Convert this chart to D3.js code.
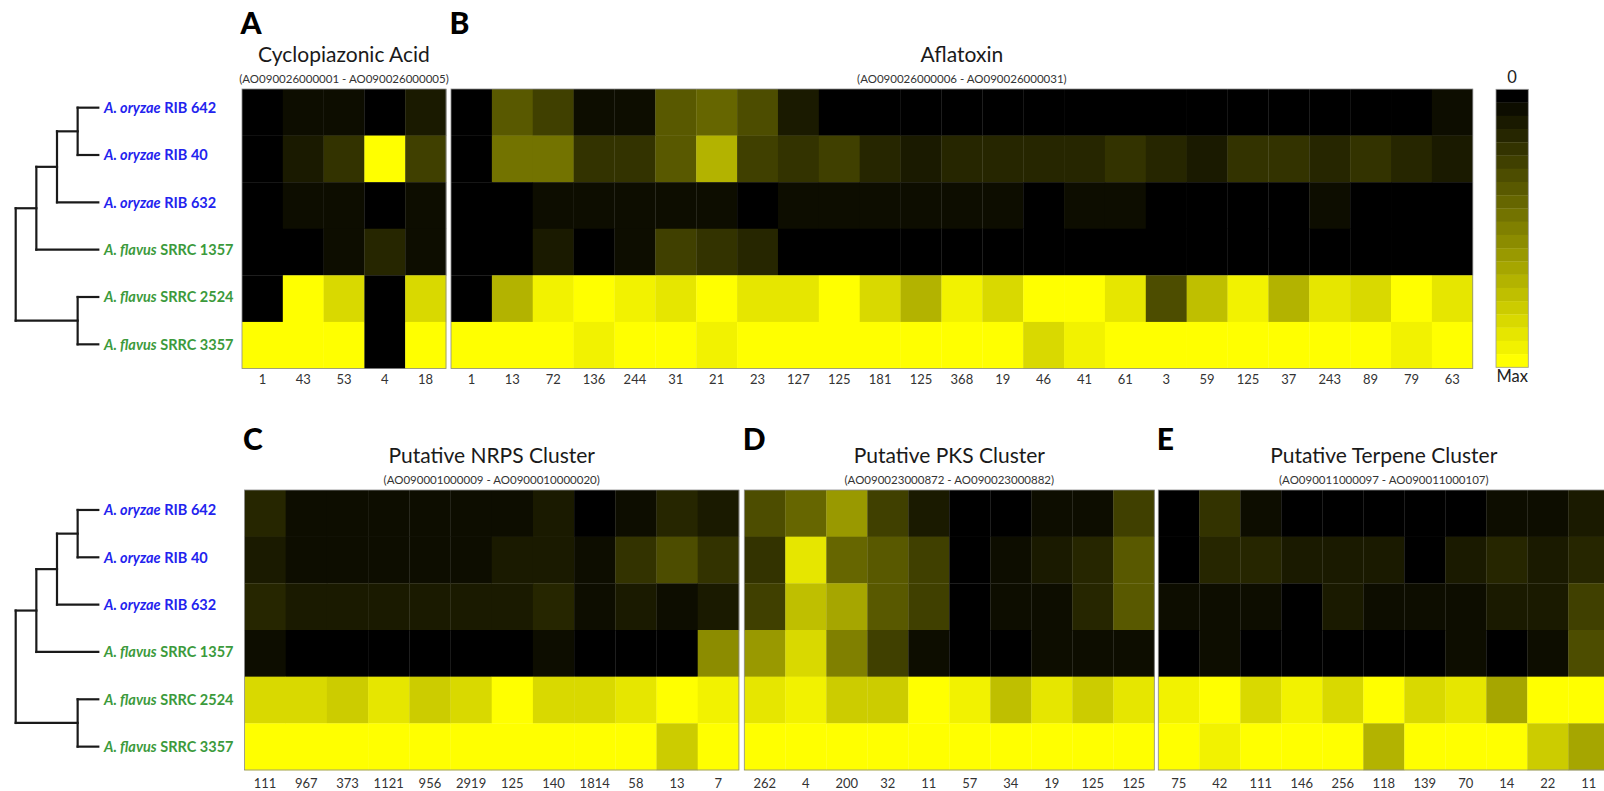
<!DOCTYPE html>
<html>
<head>
<meta charset="utf-8">
<script src="https://cdn.jsdelivr.net/npm/d3@7"></script>
<style>
  body { margin: 0; background: #fff; }
  svg { display: block; font-family: Lato, "Open Sans", sans-serif; }
</style>
</head>
<body>
<svg id="fig" width="1604" height="791"></svg>
<script>
// ---- strains (heatmap rows, dendrogram leaves) ----
const species   = ["A. oryzae", "A. oryzae", "A. oryzae", "A. flavus", "A. flavus", "A. flavus"];
const strainIds = ["RIB 642", "RIB 40", "RIB 632", "SRRC 1357", "SRRC 2524", "SRRC 3357"];
const strainGroup = ["oryzae", "oryzae", "oryzae", "flavus", "flavus", "flavus"];

// strain tree: h = node distance from the root (arbitrary units), leaf = row index
const strainTree = { h: 0, children: [
  { h: 1, children: [
    { h: 2, children: [
      { h: 3, children: [ { h: 4, leaf: 0 }, { h: 4, leaf: 1 } ] },
      { h: 4, leaf: 2 }
    ] },
    { h: 4, leaf: 3 }
  ] },
  { h: 3, children: [ { h: 4, leaf: 4 }, { h: 4, leaf: 5 } ] }
] };

// ---- gene clusters: maximum read count per gene (column labels) ----
const cpaMax  = [1, 43, 53, 4, 18];
const aflMax  = [1, 13, 72, 136, 244, 31, 21, 23, 127, 125, 181, 125, 368, 19, 46, 41, 61, 3, 59, 125, 37, 243, 89, 79, 63];
const nrpsMax = [111, 967, 373, 1121, 956, 2919, 125, 140, 1814, 58, 13, 7];
const pksMax  = [262, 4, 200, 32, 11, 57, 34, 19, 125, 125];
const terpMax = [75, 42, 111, 146, 256, 118, 139, 70, 14, 22, 11];

// ---- expression as % of each gene's maximum (rows follow strainIds) ----
const cpaExpr = [
  [0, 5, 5, 0, 10],
  [0, 10, 20, 100, 25],
  [0, 5, 5, 0, 5],
  [0, 0, 5, 15, 5],
  [0, 100, 85, 0, 85],
  [100, 100, 100, 0, 100]
];
const aflExpr = [
  [0, 35, 25, 5, 5, 35, 40, 30, 10, 0, 0, 0, 0, 0, 0, 0, 0, 0, 0, 0, 0, 0, 0, 0, 5],
  [0, 45, 45, 20, 20, 35, 70, 25, 20, 25, 15, 10, 15, 15, 15, 15, 20, 15, 10, 20, 20, 15, 20, 15, 10],
  [0, 0, 5, 5, 5, 5, 5, 0, 5, 5, 5, 5, 5, 5, 0, 5, 5, 0, 0, 0, 0, 5, 0, 0, 0],
  [0, 0, 10, 0, 5, 25, 20, 15, 0, 0, 0, 0, 0, 0, 0, 0, 0, 0, 0, 0, 0, 0, 0, 0, 0],
  [0, 70, 95, 100, 95, 90, 100, 90, 90, 100, 85, 70, 95, 85, 100, 100, 90, 30, 75, 95, 70, 90, 85, 100, 90],
  [100, 100, 100, 95, 100, 100, 95, 100, 100, 100, 100, 100, 100, 100, 85, 95, 100, 100, 100, 100, 100, 100, 100, 95, 100]
];
const nrpsExpr = [
  [15, 5, 5, 5, 5, 5, 5, 10, 0, 5, 15, 10],
  [10, 5, 5, 5, 5, 5, 10, 10, 5, 20, 30, 20],
  [15, 10, 10, 10, 10, 10, 10, 15, 5, 10, 5, 10],
  [5, 0, 0, 0, 0, 0, 0, 5, 0, 0, 0, 55],
  [85, 85, 80, 90, 80, 85, 100, 85, 85, 90, 100, 95],
  [100, 100, 100, 100, 100, 100, 100, 100, 100, 100, 80, 100]
];
const pksExpr = [
  [30, 40, 60, 25, 10, 0, 0, 5, 5, 25],
  [20, 90, 40, 35, 25, 0, 5, 10, 15, 35],
  [25, 75, 65, 35, 25, 0, 5, 5, 15, 35],
  [60, 85, 50, 25, 5, 0, 0, 5, 5, 5],
  [90, 95, 80, 80, 100, 95, 75, 90, 80, 90],
  [100, 100, 100, 100, 100, 100, 100, 100, 100, 100]
];
const terpExpr = [
  [0, 20, 5, 0, 0, 0, 0, 0, 5, 5, 10],
  [0, 15, 15, 10, 10, 10, 0, 10, 15, 10, 15],
  [5, 5, 5, 0, 10, 5, 5, 5, 10, 10, 25],
  [0, 5, 0, 0, 0, 0, 0, 5, 0, 5, 30],
  [95, 100, 85, 95, 85, 100, 85, 90, 65, 100, 100],
  [100, 95, 100, 100, 100, 70, 100, 100, 100, 80, 65]
];

// ---- layout ----
const W = 1604, H = 791;
const svg = d3.select("#fig");

const blocks = {
  top:    { y0: 89,  y1: 368.5, letterY: 33.5, titleY: 62,  subY: 83,    tickY: 384, leafBand: [84, 368] },
  bottom: { y0: 490, y1: 770,   letterY: 450,  titleY: 463, subY: 483.5, tickY: 788, leafBand: [486.3, 770.3] }
};

const panels = [
  { block: "top",    letter: "A", title: "Cyclopiazonic Acid",       range: "(AO090026000001 - AO090026000005)",  maxes: cpaMax,  expr: cpaExpr,  x0: 242,    cw: 40.8 },
  { block: "top",    letter: "B", title: "Aflatoxin",                range: "(AO090026000006 - AO090026000031)",  maxes: aflMax,  expr: aflExpr,  x0: 451,    cw: 40.87 },
  { block: "bottom", letter: "C", title: "Putative NRPS Cluster",    range: "(AO090001000009 - AO0900010000020)", maxes: nrpsMax, expr: nrpsExpr, x0: 244.5,  cw: 41.2 },
  { block: "bottom", letter: "D", title: "Putative PKS Cluster",     range: "(AO090023000872 - AO090023000882)",  maxes: pksMax,  expr: pksExpr,  x0: 744.3,  cw: 41.0 },
  { block: "bottom", letter: "E", title: "Putative Terpene Cluster", range: "(AO090011000097 - AO090011000107)",  maxes: terpMax, expr: terpExpr, x0: 1158.3, cw: 41.0 }
];

// stepped black -> yellow scale (21 levels)
const nSteps = 21;
const stepColors = d3.range(nSteps).map(i => d3.interpolateRgb("#000000", "#ffff00")(i / (nSteps - 1)));
const color = d3.scaleQuantize().domain([0, 100]).range(stepColors);

svg.append("defs").append("clipPath").attr("id", "page")
  .append("rect").attr("width", W).attr("height", H);
const root = svg.append("g").attr("clip-path", "url(#page)");

// ---- heatmap panels ----
panels.forEach(p => {
  const b = blocks[p.block];
  const n = p.maxes.length;
  const x = d3.scaleBand().domain(d3.range(n)).range([p.x0, p.x0 + n * p.cw]);
  const y = d3.scaleBand().domain(d3.range(strainIds.length)).range([b.y0, b.y1]);
  const g = root.append("g");

  const cells = [];
  p.expr.forEach((row, r) => row.forEach((v, c) => cells.push({ r, c, v })));
  g.selectAll("rect.cell").data(cells).join("rect")
    .attr("class", "cell")
    .attr("x", d => x(d.c))
    .attr("y", d => y(d.r))
    .attr("width", x.bandwidth() + 0.3)
    .attr("height", y.bandwidth() + 0.3)
    .attr("fill", d => color(d.v));

  g.append("rect")
    .attr("x", x.range()[0]).attr("y", b.y0)
    .attr("width", x.range()[1] - x.range()[0]).attr("height", b.y1 - b.y0)
    .attr("fill", "none").attr("stroke", "#8a8a8a").attr("stroke-width", 0.8);

  const axis = d3.axisBottom(x).tickSize(0).tickFormat(i => p.maxes[i]);
  const ax = g.append("g").attr("transform", `translate(0,${b.tickY})`).call(axis);
  ax.select(".domain").remove();
  ax.selectAll("text").attr("dy", 0).attr("y", 0)
    .attr("font-family", "Lato, sans-serif").attr("font-size", 13).attr("fill", "#333");

  const cx = (x.range()[0] + x.range()[1]) / 2;
  g.append("text").attr("x", p.x0 - 1.5).attr("y", b.letterY)
    .attr("font-size", 30).attr("font-weight", 900).attr("fill", "#000").text(p.letter);
  g.append("text").attr("x", cx).attr("y", b.titleY).attr("text-anchor", "middle")
    .attr("font-size", 21).attr("fill", "#1a1a1a").text(p.title);
  g.append("text").attr("x", cx).attr("y", b.subY).attr("text-anchor", "middle")
    .attr("font-size", 11.5).attr("fill", "#333").text(p.range);
});

// ---- colour key ----
const key = { x0: 1496, x1: 1528.3, y0: 89.3, y1: 367.3 };
const ky = d3.scaleBand().domain(d3.range(nSteps)).range([key.y0, key.y1]);
const kg = root.append("g");
kg.selectAll("rect.step").data(stepColors).join("rect")
  .attr("class", "step")
  .attr("x", key.x0).attr("width", key.x1 - key.x0)
  .attr("y", (d, i) => ky(i)).attr("height", ky.bandwidth() + 0.3)
  .attr("fill", d => d);
kg.append("rect").attr("x", key.x0).attr("y", key.y0)
  .attr("width", key.x1 - key.x0).attr("height", key.y1 - key.y0)
  .attr("fill", "none").attr("stroke", "#9a9a9a").attr("stroke-width", 0.8);
kg.append("text").attr("x", (key.x0 + key.x1) / 2).attr("y", 83).attr("text-anchor", "middle")
  .attr("font-size", 16.5).attr("fill", "#222").text("0");
kg.append("text").attr("x", (key.x0 + key.x1) / 2).attr("y", 382).attr("text-anchor", "middle")
  .attr("font-size", 16.5).attr("fill", "#222").text("Max");

// ---- strain dendrograms (one per block) ----
const tx = d3.scaleLinear().domain([0, 4]).range([15.7, 98.3]);
const groupColor = { oryzae: "#2323ee", flavus: "#3c9a3c" };

Object.values(blocks).forEach(b => {
  const ly = d3.scaleBand().domain(d3.range(strainIds.length)).range(b.leafBand);
  const leafY = i => ly(i) + ly.bandwidth() / 2;
  const h = d3.hierarchy(strainTree);
  h.eachAfter(nd => {
    nd.yy = nd.children ? (nd.children[0].yy + nd.children[nd.children.length - 1].yy) / 2 : leafY(nd.data.leaf);
  });
  const g = root.append("g").attr("fill", "none").attr("stroke", "#1a1a1a")
    .attr("stroke-width", 2.2).attr("stroke-linecap", "square");
  const segs = [];
  h.each(nd => {
    if (!nd.children) return;
    const kids = nd.children;
    segs.push([tx(nd.data.h), kids[0].yy, tx(nd.data.h), kids[kids.length - 1].yy]);
    kids.forEach(k => segs.push([tx(nd.data.h), k.yy, tx(k.data.h), k.yy]));
  });
  g.selectAll("line").data(segs).join("line")
    .attr("x1", d => d[0]).attr("y1", d => d[1]).attr("x2", d => d[2]).attr("y2", d => d[3]);

  const lab = root.append("g");
  const t = lab.selectAll("text").data(strainIds).join("text")
    .attr("x", 104).attr("y", (d, i) => leafY(i) + 5.2)
    .attr("font-size", 14.5).attr("font-weight", 700)
    .attr("fill", (d, i) => groupColor[strainGroup[i]]);
  t.append("tspan").attr("font-style", "italic").text((d, i) => species[i]);
  t.append("tspan").text(d => " " + d);
});
</script>
</body>
</html>
